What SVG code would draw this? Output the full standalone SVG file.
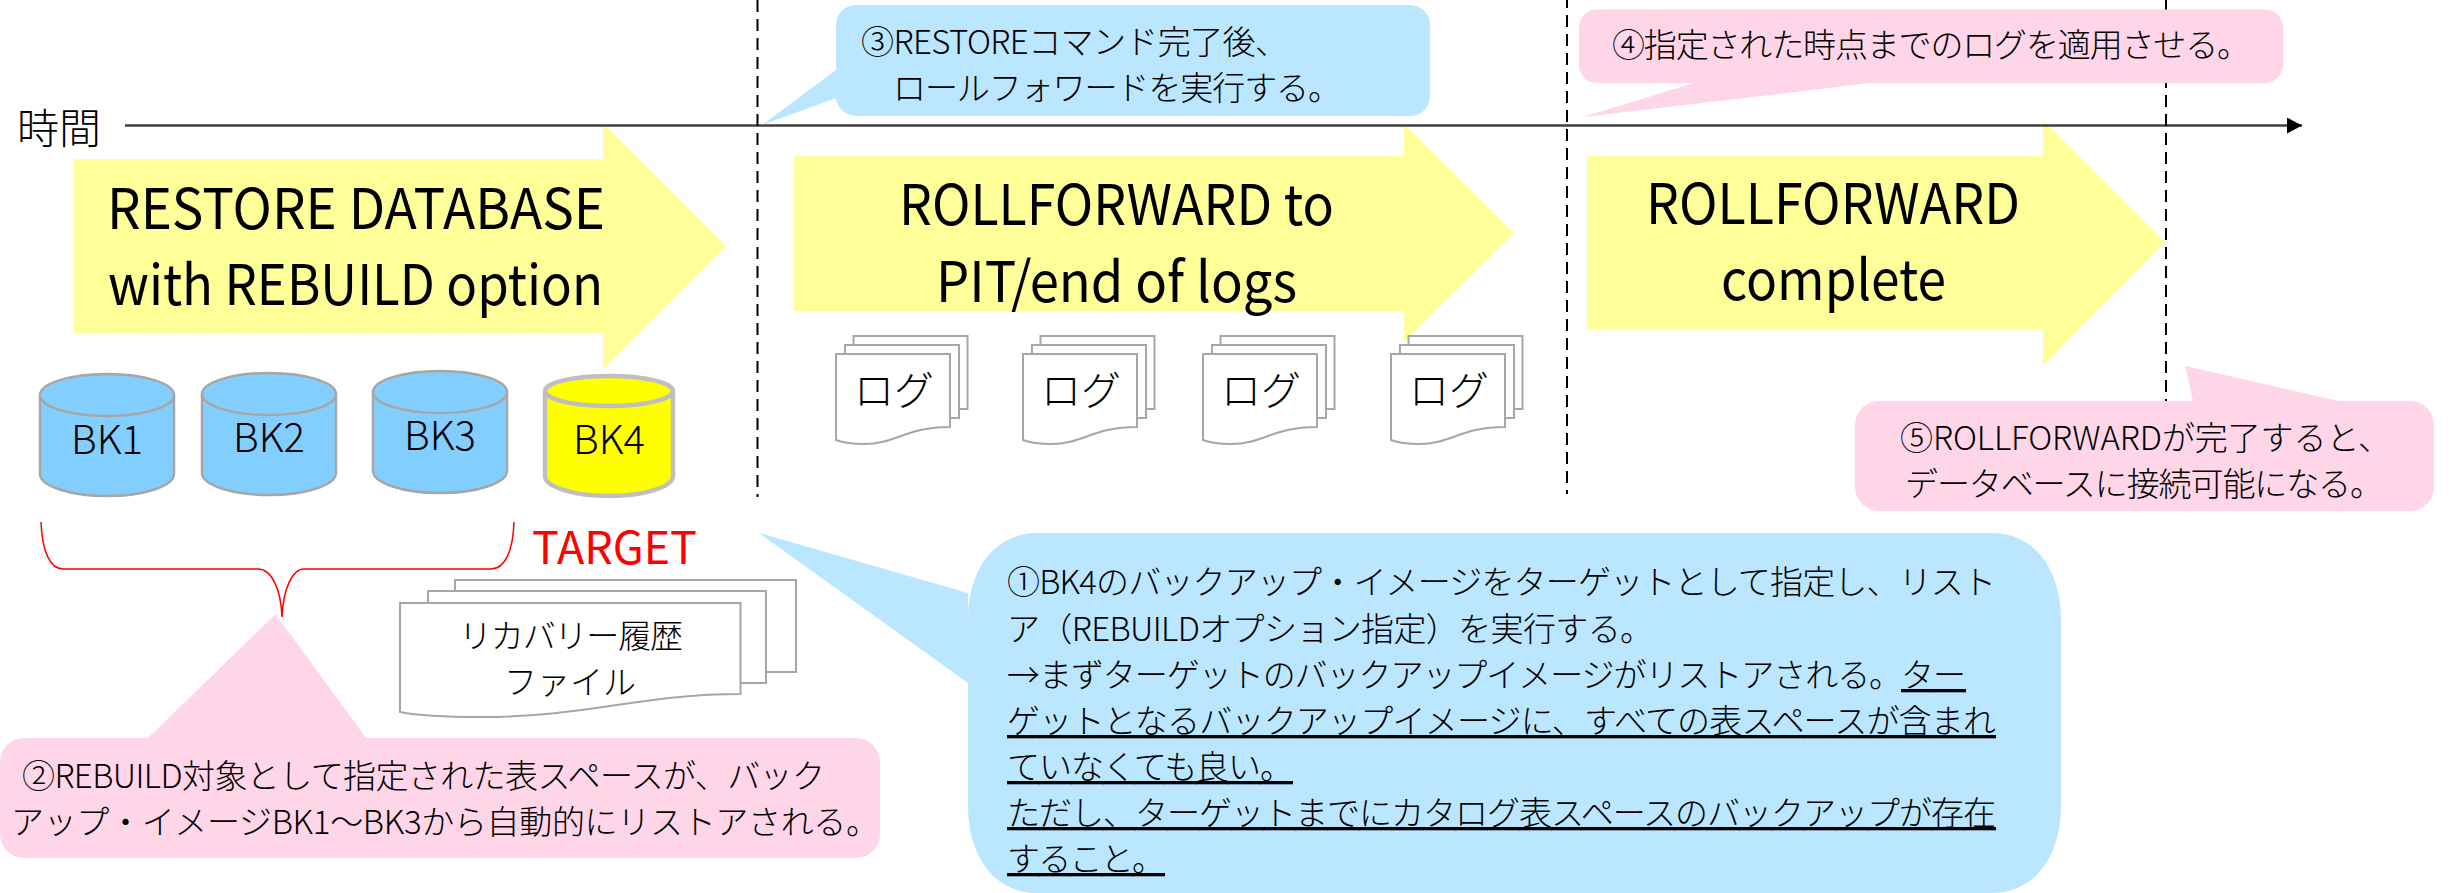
<svg xmlns="http://www.w3.org/2000/svg" width="2453" height="893" viewBox="0 0 2453 893">
<style>
text{font-family:"Noto Sans CJK JP","Noto Sans",sans-serif;fill:#000;font-weight:300}
.title{font-size:56px;font-weight:400}
.note{font-size:33px}
.big{font-size:40px}
.bk{font-size:40px}
.c{text-anchor:middle}
.arrow{fill:#ffff99}
.blue{fill:#bae6ff}
.pink{fill:#ffd6e8}
.cyl{fill:#82cfff;stroke:#a6a6a6;stroke-width:2.5}
.cyl4{fill:#ffff00;stroke:#bfbfbf;stroke-width:4.5}
.doc{fill:#fff;stroke:#a6a6a6;stroke-width:2}
.dash{stroke:#000;stroke-width:2;stroke-dasharray:12 7;fill:none}
.u{text-decoration:underline}
</style>
<defs>
<marker id="tip" markerUnits="userSpaceOnUse" markerWidth="16" markerHeight="16" refX="15" refY="8" orient="auto"><path d="M0 0L15 8L0 16Z" fill="#000"/></marker>
<g id="logdoc">
<rect class="doc" x="17.500" y="-18" width="114" height="73"/>
<rect class="doc" x="9" y="-9" width="114" height="73"/>
<path class="doc" d="M0 0H114V73C70 73 60 90 28 90C16 90 8 89 0 86Z"/>
</g>
<path id="cylbody" d="M0 21V100C0 112 30 122 67 122S134 112 134 100V21"/>
</defs>

<g id="arrow-restore"><path class="arrow" d="M74 159H603V123L726 246L603 369V333H74Z"/>
<text class="title" x="107" y="229" textLength="498" lengthAdjust="spacingAndGlyphs">RESTORE DATABASE</text>
<text class="title" x="108" y="305" textLength="495" lengthAdjust="spacingAndGlyphs">with REBUILD option</text></g>
<g id="arrow-rollforward"><path class="arrow" d="M794 156H1404V124L1514 233L1404 342V311H794Z"/>
<text class="title" x="899" y="225" textLength="435" lengthAdjust="spacingAndGlyphs">ROLLFORWARD to</text>
<text class="title" x="936" y="302" textLength="361" lengthAdjust="spacingAndGlyphs">PIT/end of logs</text></g>
<g id="arrow-complete"><path class="arrow" d="M1587 156H2043V120L2165 242L2043 366V329H1587Z"/>
<text class="title" x="1646" y="224" textLength="374" lengthAdjust="spacingAndGlyphs">ROLLFORWARD</text>
<text class="title" x="1721" y="300" textLength="225" lengthAdjust="spacingAndGlyphs">complete</text></g>

<g id="connectors">
<path d="M125 125.500H2302" stroke="#404040" stroke-width="2.500" fill="none" marker-end="url(#tip)"/>
<path class="dash" d="M757.500 0V497"/>
<path class="dash" d="M1567 0V494" stroke-dashoffset="4"/>
<path class="dash" d="M2166 0V405"/>
<path d="M41 522C42 551 50 569 63 569H258C272 569 281 590 282 617C283 590 292 569 304 569H491C505 569 513 551 514 522" fill="none" stroke="#ff0000" stroke-width="1.500"/>
</g>

<g id="time"><text x="17" y="144" style="font-size:42px">時間</text></g>

<g id="callout-3"><path class="blue" d="M856 5H1410A20 20 0 0 1 1430 25V96A20 20 0 0 1 1410 116H856A20 20 0 0 1 836 98L762 125L836 70V25A20 20 0 0 1 856 5Z"/>
<text class="note" x="861" y="54" textLength="427">③RESTOREコマンド完了後、</text>
<text class="note" x="893" y="100" textLength="448">ロールフォワードを実行する。</text></g>

<g id="callout-4"><path class="pink" d="M1597 9.500H2265A18 18 0 0 1 2283 27.500V65A18 18 0 0 1 2265 83H1870L1583 117L1694 83H1597A18 18 0 0 1 1579 65V27.500A18 18 0 0 1 1597 9.500Z"/>
<text class="note" x="1612" y="57" textLength="638">④指定された時点までのログを適用させる。</text></g>

<g id="callout-5"><path class="pink" d="M1879 401H2193L2185 366L2339 401H2410A24 24 0 0 1 2434 425V487A24 24 0 0 1 2410 511H1879A24 24 0 0 1 1855 487V425A24 24 0 0 1 1879 401Z"/>
<text class="note" x="1900" y="450" textLength="491">⑤ROLLFORWARDが完了すると、</text>
<text class="note" x="1905" y="496" textLength="478">データベースに接続可能になる。</text></g>

<g id="bk1"><use href="#cylbody" class="cyl" x="40" y="374"/><ellipse class="cyl" cx="107" cy="395" rx="67" ry="21"/><text class="bk c" x="107" y="454">BK1</text></g>
<g id="bk2"><use href="#cylbody" class="cyl" x="202" y="373"/><ellipse class="cyl" cx="269" cy="394" rx="67" ry="21"/><text class="bk c" x="269" y="452">BK2</text></g>
<g id="bk3"><use href="#cylbody" class="cyl" x="373" y="371"/><ellipse class="cyl" cx="440" cy="392" rx="67" ry="21"/><text class="bk c" x="440" y="450">BK3</text></g>
<g id="bk4"><path class="cyl4" d="M545 392V476C545 487 574 496 609 496S673 487 673 476V392"/><ellipse class="cyl4" cx="609" cy="391" rx="64" ry="15"/><text class="bk c" x="609" y="454">BK4</text></g>

<g id="log-1"><use href="#logdoc" x="836" y="354"/><text class="big" x="854" y="405">ログ</text></g>
<g id="log-2"><use href="#logdoc" x="1023" y="354"/><text class="big" x="1041" y="405">ログ</text></g>
<g id="log-3"><use href="#logdoc" x="1203" y="354"/><text class="big" x="1221" y="405">ログ</text></g>
<g id="log-4"><use href="#logdoc" x="1391" y="354"/><text class="big" x="1409" y="405">ログ</text></g>

<g id="target"><text x="532" y="564" style="font-size:45px;fill:#ff0000;font-weight:400" textLength="165" lengthAdjust="spacingAndGlyphs">TARGET</text></g>

<g id="history">
<rect class="doc" x="455" y="580" width="341" height="92"/>
<rect class="doc" x="428" y="591" width="338" height="92"/>
<path class="doc" d="M400 603H740.500V694C640 694 590 717 480 717C450 717 420 716 400 712Z"/>
<text class="note c" x="571" y="648" textLength="224">リカバリー履歴</text>
<text class="note c" x="570" y="694">ファイル</text>
</g>

<g id="callout-2"><path class="pink" d="M24 738H148L275.500 614L366 738H856A24 24 0 0 1 880 762V834A24 24 0 0 1 856 858H24A24 24 0 0 1 0 834V762A24 24 0 0 1 24 738Z"/>
<text class="note" x="22" y="788" textLength="803">②REBUILD対象として指定された表スペースが、バック</text>
<text class="note" x="11" y="834" textLength="868">アップ・イメージBK1～BK3から自動的にリストアされる。</text></g>

<g id="callout-1"><path class="blue" d="M1038 533H1991C2039 533 2061 575 2061 620V806C2061 851 2039 893 1991 893H1038C990 893 968 851 968 806V683L759 533L968 593V620C968 575 990 533 1038 533Z"/>
<text class="note" x="1007" y="594" textLength="989">①BK4のバックアップ・イメージをターゲットとして指定し、リスト</text>
<text class="note" x="1007" y="641" textLength="646">ア（REBUILDオプション指定）を実行する。</text>
<text class="note" x="1007" y="687" textLength="959">→まずターゲットのバックアップイメージがリストアされる。<tspan class="u">ター</tspan></text>
<text class="note" x="1007" y="733" textLength="989"><tspan class="u">ゲットとなるバックアップイメージに、すべての表スペースが含まれ</tspan></text>
<text class="note" x="1007" y="779" textLength="286"><tspan class="u">ていなくても良い。</tspan></text>
<text class="note" x="1007" y="825" textLength="989"><tspan class="u">ただし、ターゲットまでにカタログ表スペースのバックアップが存在</tspan></text>
<text class="note" x="1007" y="871" textLength="158"><tspan class="u">すること。</tspan></text></g>
</svg>
